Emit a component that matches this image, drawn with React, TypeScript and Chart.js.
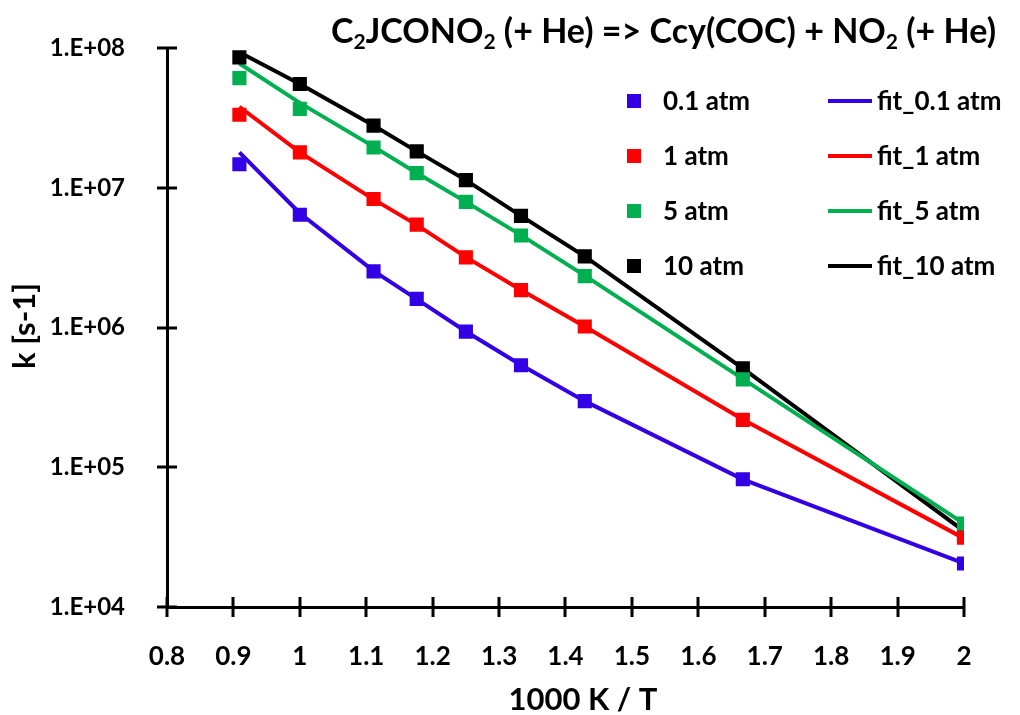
import React, { useEffect, useRef } from 'react';
import { Chart, registerables } from 'chart.js';
Chart.register(...registerables);

const xValues = [0.909, 1.0, 1.111, 1.176, 1.25, 1.333, 1.429, 1.667, 2.0];

const k01 = [1.48e7, 6.44e6, 2.53e6, 1.61e6, 9.38e5, 5.38e5, 2.98e5, 8.22e4, 2.05e4];
const k1 = [3.35e7, 1.8e7, 8.35e6, 5.47e6, 3.19e6, 1.86e6, 1.02e6, 2.19e5, 3.13e4];
const k5 = [6.12e7, 3.69e7, 1.95e7, 1.28e7, 7.96e6, 4.57e6, 2.34e6, 4.27e5, 3.95e4];
const k10 = [8.63e7, 5.56e7, 2.8e7, 1.83e7, 1.14e7, 6.32e6, 3.24e6, 5.12e5, 3.3e4];

const fit01 = [1.8e7, 6.6e6, 2.55e6, 1.6e6, 9.4e5, 5.4e5, 2.98e5, 8.2e4, 2.05e4];
const fit1 = [3.82e7, 1.8e7, 8.3e6, 5.45e6, 3.2e6, 1.86e6, 1.02e6, 2.2e5, 3.1e4];
const fit5 = [7.8e7, 4.07e7, 1.98e7, 1.28e7, 7.96e6, 4.6e6, 2.36e6, 4.3e5, 3.95e4];
const fit10 = [9.4e7, 5.56e7, 2.8e7, 1.83e7, 1.14e7, 6.32e6, 3.24e6, 5.12e5, 3.5e4];

const seriesLabels = ['0.1 atm', '1 atm', '5 atm', '10 atm'];
const fitLabels = ['fit_0.1 atm', 'fit_1 atm', 'fit_5 atm', 'fit_10 atm'];
const seriesColors = ['#3300E6', '#FF0000', '#00B050', '#000000'];
const yTickValues = [1e4, 1e5, 1e6, 1e7, 1e8];
const xTickValues = [0.8, 0.9, 1.0, 1.1, 1.2, 1.3, 1.4, 1.5, 1.6, 1.7, 1.8, 1.9, 2.0];

const titleParts: { t: string; sub?: boolean }[] = [
  { t: 'C' }, { t: '2', sub: true }, { t: 'JCONO' }, { t: '2', sub: true },
  { t: ' (+ He) => Ccy(COC) + NO' }, { t: '2', sub: true }, { t: ' (+ He)' },
];

const FONT = 'Lato, "Liberation Sans", sans-serif';

const pts = (ys: number[]) => xValues.map((x, i) => ({ x, y: ys[i] }));

const overlay = {
  id: 'overlay',
  afterDraw(chart: any) {
    const ctx = chart.ctx;
    const xs = chart.scales.x;
    const ys = chart.scales.y;
    const ca = chart.chartArea;
    ctx.save();
    ctx.strokeStyle = '#000';
    ctx.lineWidth = 3;
    ctx.beginPath();
    xTickValues.forEach((v) => {
      const px = Math.round(xs.getPixelForValue(v));
      ctx.moveTo(px, ca.bottom - 10);
      ctx.lineTo(px, ca.bottom + 10);
    });
    yTickValues.forEach((v) => {
      const py = Math.round(ys.getPixelForValue(v));
      ctx.moveTo(ca.left - 10, py);
      ctx.lineTo(ca.left + 10, py);
    });
    ctx.stroke();

    // title
    const mainF = `bold 34px ${FONT}`;
    const subF = `bold 21px ${FONT}`;
    let total = 0;
    titleParts.forEach((p) => {
      ctx.font = p.sub ? subF : mainF;
      total += ctx.measureText(p.t).width;
    });
    let tx = 663.5 - total / 2;
    ctx.fillStyle = '#000';
    ctx.textBaseline = 'alphabetic';
    ctx.textAlign = 'left';
    titleParts.forEach((p) => {
      ctx.font = p.sub ? subF : mainF;
      ctx.fillText(p.t, tx, p.sub ? 49 : 43);
      tx += ctx.measureText(p.t).width;
    });

    // legend
    const rows = [101, 156, 211, 266];
    ctx.font = `bold 26px ${FONT}`;
    ctx.textBaseline = 'middle';
    rows.forEach((ry, i) => {
      ctx.fillStyle = seriesColors[i];
      ctx.fillRect(627, ry - 7, 14, 14);
      ctx.strokeStyle = seriesColors[i];
      ctx.lineWidth = 4;
      ctx.beginPath();
      ctx.moveTo(828, ry);
      ctx.lineTo(872, ry);
      ctx.stroke();
      ctx.fillStyle = '#000';
      ctx.fillText(seriesLabels[i], 663, ry + 1);
      ctx.fillText(fitLabels[i], 877, ry + 1);
    });

    // axis titles
    ctx.font = `bold 31px ${FONT}`;
    ctx.textAlign = 'center';
    ctx.fillText('1000 K / T', 583, 700);
    ctx.save();
    ctx.translate(25, 326);
    ctx.rotate(-Math.PI / 2);
    ctx.fillText('k [s-1]', 0, 0);
    ctx.restore();
    ctx.restore();
  },
};

export default function App() {
  const ref = useRef<HTMLCanvasElement>(null);
  useEffect(() => {
    if (!ref.current) return;
    const kSets = [k01, k1, k5, k10];
    const fitSets = [fit01, fit1, fit5, fit10];
    const datasets: any[] = [];
    kSets.forEach((k, i) => {
      datasets.push({
        label: seriesLabels[i],
        data: pts(k),
        showLine: false,
        pointStyle: 'rect',
        pointRadius: 10,
        pointBorderWidth: 0,
        pointBackgroundColor: seriesColors[i],
        borderColor: seriesColors[i],
        backgroundColor: seriesColors[i],
        order: 0,
      });
    });
    fitSets.forEach((f, i) => {
      datasets.push({
        label: fitLabels[i],
        data: pts(f),
        showLine: true,
        pointRadius: 0,
        borderWidth: 4,
        borderColor: seriesColors[i],
        backgroundColor: seriesColors[i],
        tension: 0,
        order: 1,
      });
    });
    const chart = new Chart(ref.current, {
      type: 'scatter',
      data: { datasets },
      options: {
        animation: false,
        responsive: false,
        events: [],
        layout: { padding: { left: 0, top: 43, right: 56, bottom: 0 } },
        plugins: { legend: { display: false }, tooltip: { enabled: false }, title: { display: false } },
        scales: {
          x: {
            type: 'linear',
            min: 0.8,
            max: 2,
            afterBuildTicks: (s: any) => { s.ticks = xTickValues.map((v) => ({ value: v })); },
            afterFit: (s: any) => { s.height = 108; },
            ticks: {
              autoSkip: false,
              maxRotation: 0,
              padding: 26,
              color: '#000',
              font: { family: FONT, size: 26, weight: 'bold' },
              callback: (v: any) => parseFloat(Number(v).toFixed(1)).toString(),
            },
            grid: { display: false },
            border: { display: true, color: '#000', width: 3 },
          },
          y: {
            type: 'logarithmic',
            min: 1e4,
            max: 1e8,
            afterBuildTicks: (s: any) => { s.ticks = yTickValues.map((v) => ({ value: v })); },
            afterFit: (s: any) => { s.width = 167; },
            ticks: {
              autoSkip: false,
              padding: 34,
              color: '#000',
              font: { family: FONT, size: 24, weight: 'bold' },
              callback: (v: any) => '1.E+' + String(Math.round(Math.log10(Number(v)))).padStart(2, '0'),
            },
            grid: { display: false },
            border: { display: true, color: '#000', width: 3 },
          },
        },
      },
      plugins: [overlay],
    });
    return () => chart.destroy();
  }, []);
  return (
    <div style={{ position: 'absolute', left: 0, top: 0, width: 1020, height: 715, background: '#fff' }}>
      <canvas ref={ref} width={1020} height={715} style={{ display: 'block' }} />
    </div>
  );
}
